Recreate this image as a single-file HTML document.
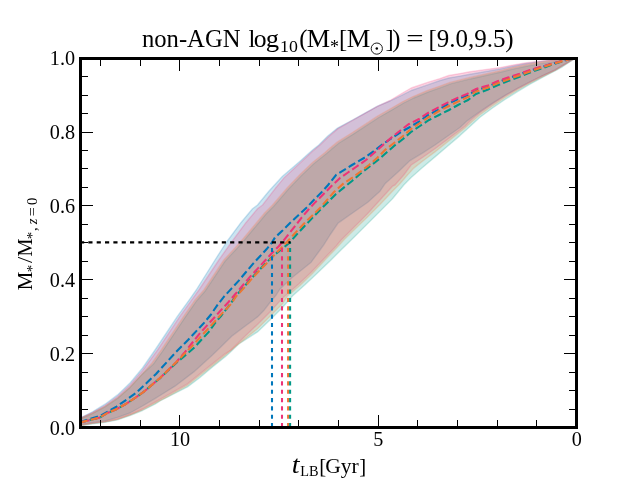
<!DOCTYPE html>
<html><head><meta charset="utf-8"><title>plot</title>
<style>
html,body{margin:0;padding:0;background:#fff;}
body{width:640px;height:480px;overflow:hidden;}
svg{display:block;}
text{font-family:"Liberation Serif",serif;fill:#000;}
</style></head><body>
<svg width="640" height="480" viewBox="0 0 640 480">
<rect width="640" height="480" fill="#fff"/>
<clipPath id="cp"><rect x="80.0" y="57.6" width="496.0" height="369.59999999999997"/></clipPath>
<g clip-path="url(#cp)">
<polygon points="80.0,418.0 82.5,416.8 92.5,411.8 105.0,404.2 117.5,394.9 130.0,383.0 142.5,368.0 155.0,350.0 165.0,335.0 177.5,316.2 190.0,298.8 196.2,290.0 215.0,260.0 226.2,242.5 240.0,223.8 252.5,208.8 257.5,205.0 268.8,191.2 282.5,176.2 300.0,161.2 312.5,150.0 318.8,145.0 327.5,136.2 337.5,128.1 352.5,120.0 365.0,113.1 377.5,106.2 390.0,101.0 402.5,94.9 411.2,90.5 427.5,84.9 440.0,80.5 448.8,78.0 460.0,76.1 470.0,74.2 500.0,69.0 512.5,66.2 525.0,63.8 537.5,61.9 550.0,60.4 576.0,57.6 576.0,57.6 555.0,69.9 542.5,75.7 530.0,81.8 517.5,88.3 505.0,95.4 492.5,103.2 480.0,111.6 467.5,120.6 460.0,127.5 447.5,136.2 435.0,145.0 422.5,153.1 410.0,160.6 397.5,172.5 385.0,183.8 380.0,191.2 367.5,202.5 355.0,211.2 338.1,223.1 330.0,235.0 323.8,244.8 317.5,253.5 311.2,262.2 305.0,267.2 292.5,277.2 280.0,289.0 276.2,295.0 270.0,302.5 263.8,310.6 257.5,316.9 245.0,326.2 232.5,335.6 220.0,347.8 212.5,355.0 193.8,371.9 175.0,386.2 160.0,395.5 155.0,398.6 142.5,406.0 130.0,413.0 117.5,417.4 105.0,421.0 92.5,422.8 82.5,424.3 80.0,424.5" fill="#0077BB" fill-opacity="0.2" stroke="#0077BB" stroke-opacity="0.2" stroke-width="1.39" stroke-linejoin="round"/>
<polygon points="80.0,419.0 82.5,418.0 92.5,413.6 105.0,406.9 117.5,398.4 130.0,387.4 142.5,373.9 153.2,364.3 162.4,351.3 172.4,336.3 184.9,317.6 196.2,301.3 204.9,291.3 224.9,261.3 241.2,243.8 253.7,228.8 266.2,213.8 273.7,206.3 288.7,188.8 301.2,175.7 313.7,163.8 326.2,153.8 331.2,149.4 338.7,143.2 353.7,133.8 366.2,125.7 378.7,117.5 391.2,110.3 403.7,103.0 413.7,98.0 428.7,91.8 441.2,87.4 451.2,83.7 461.2,81.2 471.2,78.7 501.2,72.0 513.7,68.9 526.2,66.2 538.7,63.9 551.2,62.3 576.0,57.6 576.0,57.6 562.5,66.8 555.0,71.0 542.5,77.4 530.0,84.2 517.5,91.6 505.0,99.5 492.5,108.0 480.0,117.3 467.5,128.8 460.0,135.6 447.5,146.2 435.0,156.9 422.5,167.5 411.2,177.5 403.8,185.0 392.5,198.8 380.0,211.2 367.5,223.8 351.2,240.0 342.5,248.5 330.0,261.0 317.5,272.9 305.0,284.8 292.5,296.0 282.5,307.5 270.0,320.0 257.5,331.9 238.8,344.0 230.0,352.5 225.0,356.9 212.5,366.9 200.0,377.5 187.5,386.9 168.8,396.5 160.0,401.0 155.0,404.2 142.5,410.5 130.0,415.5 117.5,419.9 105.0,422.4 92.5,423.9 82.5,425.5 80.0,425.6" fill="#009988" fill-opacity="0.2" stroke="#009988" stroke-opacity="0.2" stroke-width="1.39" stroke-linejoin="round"/>
<polygon points="80.0,418.3 82.5,417.2 92.5,412.6 105.0,405.5 117.5,396.5 130.0,385.0 142.5,370.5 157.5,350.0 180.0,316.2 198.8,290.0 218.8,260.0 231.2,242.5 245.0,223.8 257.5,208.8 262.5,205.0 275.0,188.8 283.8,178.1 300.0,163.1 312.5,151.2 320.0,145.0 328.5,136.8 338.0,128.6 352.5,120.4 365.0,113.3 377.5,106.3 390.0,100.5 402.5,93.0 411.2,88.0 427.5,82.4 440.0,78.6 448.8,75.5 460.0,73.6 470.0,71.8 500.0,67.6 512.5,65.1 525.0,63.0 537.5,61.4 550.0,60.1 576.0,57.6 576.0,57.6 555.0,70.2 542.5,76.0 530.0,82.1 517.5,88.7 505.0,96.0 492.5,104.0 480.0,112.6 470.0,121.0 465.0,126.2 460.0,130.0 447.5,139.4 435.0,148.8 422.5,157.5 411.2,165.0 403.8,175.0 395.0,185.0 392.5,186.2 380.0,200.0 367.5,213.8 355.0,226.2 341.2,240.0 336.2,246.0 323.8,259.0 311.2,272.2 298.8,284.0 285.0,296.0 282.5,298.1 270.0,311.9 257.5,324.4 245.0,336.2 231.2,349.8 225.0,353.8 206.2,368.8 187.5,383.8 165.0,396.5 155.0,402.0 142.5,409.0 130.0,414.6 117.5,419.0 105.0,421.6 92.5,423.1 82.5,424.7 80.0,424.8" fill="#EE3377" fill-opacity="0.2" stroke="#EE3377" stroke-opacity="0.2" stroke-width="1.39" stroke-linejoin="round"/>
<polygon points="80.0,418.6 82.5,417.6 92.5,413.2 105.0,406.5 117.5,398.0 130.0,387.0 142.5,373.5 152.0,363.0 161.2,350.0 171.2,335.0 183.8,316.2 195.0,300.0 203.8,290.0 223.8,260.0 240.0,242.5 252.5,227.5 265.0,212.5 272.5,205.0 287.5,187.5 300.0,174.4 312.5,162.5 325.0,152.5 330.0,148.1 337.5,141.9 352.5,132.5 365.0,124.4 377.5,116.2 390.0,109.0 402.5,101.8 412.5,96.8 427.5,90.5 440.0,86.1 450.0,82.4 460.0,79.9 470.0,77.4 500.0,70.8 512.5,67.6 525.0,64.9 537.5,62.6 550.0,61.0 576.0,57.6 576.0,57.6 555.0,70.5 542.5,76.6 530.0,83.0 517.5,90.0 505.0,97.6 492.5,105.8 480.0,114.8 470.0,123.5 465.0,128.1 460.0,131.9 447.5,141.9 435.0,151.9 422.5,161.2 413.8,168.1 407.5,175.0 398.8,185.0 392.5,191.2 380.0,204.4 367.5,216.9 355.0,229.0 343.8,240.0 337.5,247.0 325.0,260.0 312.5,273.5 300.0,285.5 287.5,296.0 282.5,303.8 270.0,316.2 257.5,328.8 236.2,345.9 225.0,355.4 206.2,370.6 187.5,385.3 166.5,397.2 155.0,403.2 142.5,409.8 130.0,415.0 117.5,419.4 105.0,421.9 92.5,423.4 82.5,425.0 80.0,425.1" fill="#EE7733" fill-opacity="0.2" stroke="#EE7733" stroke-opacity="0.2" stroke-width="1.39" stroke-linejoin="round"/>
<polyline points="80.0,422.0 100.0,416.0 116.0,407.0 136.0,393.0 156.0,374.0 176.0,352.0 188.0,340.0 203.8,323.1 210.6,315.0 217.5,304.9 224.4,296.2 231.9,288.1 238.8,280.6 245.6,272.5 252.5,264.4 260.0,256.2 266.9,248.8 272.0,242.4 275.0,237.5 282.5,230.6 290.0,223.1 298.1,215.6 306.2,208.1 313.8,200.0 321.9,191.9 328.1,185.0 336.0,175.0 352.0,165.0 364.0,158.0 374.0,151.0 383.0,144.0 392.0,138.0 401.0,132.0 410.0,127.0 419.0,121.6 428.0,115.0 438.0,110.0 448.0,104.0 458.0,99.0 468.0,95.0 476.0,90.5 488.0,86.5 498.0,82.0 508.0,78.5 519.0,74.5 530.0,70.5 540.0,67.5 551.0,64.0 562.0,61.0 576.0,57.6" fill="none" stroke="#0077BB" stroke-width="2.08" stroke-dasharray="7.7 3.33" stroke-dashoffset="0"/>
<polyline points="80.0,422.5 100.0,417.5 106.2,413.6 116.2,409.2 125.6,404.2 135.0,398.0 143.8,391.8 151.2,385.5 160.0,378.2 168.8,369.8 176.2,363.0 193.8,348.1 201.2,340.0 208.8,331.9 215.0,323.1 221.0,316.0 230.6,303.6 235.6,296.1 243.1,287.9 250.6,279.2 258.1,271.1 265.6,263.6 272.6,256.3 281.5,249.3 289.8,242.4 296.2,235.0 304.4,226.2 320.0,210.0 336.0,194.0 352.0,181.0 360.0,174.0 369.0,167.0 378.0,160.0 386.0,153.0 394.0,146.0 403.0,139.0 411.0,132.0 420.0,126.0 429.0,120.0 439.0,115.0 449.0,110.0 458.0,105.0 468.0,100.0 476.0,94.0 488.0,89.5 498.0,85.0 508.0,81.0 519.0,77.0 530.0,72.5 540.0,69.0 551.0,65.0 562.0,61.5 576.0,57.6" fill="none" stroke="#009988" stroke-width="2.08" stroke-dasharray="7.7 3.33" stroke-dashoffset="1.2"/>
<polyline points="80.0,422.5 100.0,417.5 106.2,413.6 116.2,409.2 125.6,404.2 135.0,398.0 143.8,391.8 151.2,385.5 160.0,378.0 168.8,369.4 176.2,362.3 184.4,352.8 187.5,348.8 192.5,342.5 199.4,333.8 206.9,325.6 214.4,317.5 220.0,311.2 228.1,302.5 235.6,293.8 243.1,285.0 250.6,276.2 258.1,268.1 265.6,260.0 272.5,252.5 278.8,246.2 282.0,242.4 287.5,235.6 294.4,226.9 301.2,218.1 308.1,210.0 315.6,201.9 323.8,193.8 331.2,186.2 340.0,178.0 348.0,172.5 356.0,167.0 366.0,160.0 374.0,153.0 383.0,145.0 392.0,137.0 401.0,130.0 409.0,124.0 419.0,119.0 428.0,113.0 438.0,107.6 448.0,102.4 458.0,97.6 467.0,94.0 476.0,89.0 488.0,85.4 498.0,81.0 508.0,77.6 519.0,74.0 530.0,70.0 540.0,67.0 551.0,64.0 562.0,61.0 576.0,57.6" fill="none" stroke="#EE3377" stroke-width="2.08" stroke-dasharray="7.7 3.33" stroke-dashoffset="-2.0"/>
<polyline points="80.0,422.5 100.0,417.5 106.2,413.6 116.2,409.2 125.6,404.2 135.0,398.0 143.8,391.8 151.2,385.5 160.0,378.0 168.8,369.4 176.2,362.3 191.9,346.2 200.0,337.5 207.5,329.4 215.0,321.2 220.0,315.6 231.2,303.8 236.2,296.2 243.8,288.1 251.2,279.4 258.8,271.2 266.2,263.8 273.1,256.2 281.2,248.1 288.8,240.0 296.2,231.9 303.8,223.8 320.0,208.0 334.0,192.0 344.0,183.0 352.0,178.0 360.0,172.0 369.0,165.0 377.0,158.0 385.0,150.0 394.0,143.0 403.0,136.0 411.0,129.0 420.0,123.0 429.0,117.0 439.0,111.0 449.0,106.0 458.0,101.6 468.0,97.0 476.0,91.5 488.0,87.5 498.0,83.0 508.0,79.5 519.0,75.5 530.0,71.5 540.0,68.0 551.0,64.5 562.0,61.3 576.0,57.6" fill="none" stroke="#EE7733" stroke-width="2.08" stroke-dasharray="7.7 3.33" stroke-dashoffset="0"/>
<line x1="272.0" y1="427.2" x2="272.0" y2="242.4" stroke="#0077BB" stroke-width="2.08" stroke-dasharray="4.17 4.17"/>
<line x1="282.0" y1="427.2" x2="282.0" y2="242.4" stroke="#EE3377" stroke-width="2.08" stroke-dasharray="4.17 4.17"/>
<line x1="288.1" y1="427.2" x2="288.1" y2="242.4" stroke="#EE7733" stroke-width="2.08" stroke-dasharray="4.17 4.17"/>
<line x1="290.1" y1="427.2" x2="290.1" y2="242.4" stroke="#009988" stroke-width="2.08" stroke-dasharray="4.17 4.17"/>
<line x1="80.0" y1="242.4" x2="290.6" y2="242.4" stroke="#000" stroke-width="2.08" stroke-dasharray="4.17 4.17"/>
</g>
<g fill="#000" shape-rendering="crispEdges">
<rect x="576" y="415.0" width="1" height="12.5"/><rect x="576" y="58.5" width="1" height="12.5"/>
<rect x="536" y="420.2" width="1" height="7.3"/><rect x="536" y="58.5" width="1" height="7.3"/>
<rect x="497" y="420.2" width="1" height="7.3"/><rect x="497" y="58.5" width="1" height="7.3"/>
<rect x="457" y="420.2" width="1" height="7.3"/><rect x="457" y="58.5" width="1" height="7.3"/>
<rect x="417" y="420.2" width="1" height="7.3"/><rect x="417" y="58.5" width="1" height="7.3"/>
<rect x="378" y="415.0" width="1" height="12.5"/><rect x="378" y="58.5" width="1" height="12.5"/>
<rect x="338" y="420.2" width="1" height="7.3"/><rect x="338" y="58.5" width="1" height="7.3"/>
<rect x="298" y="420.2" width="1" height="7.3"/><rect x="298" y="58.5" width="1" height="7.3"/>
<rect x="259" y="420.2" width="1" height="7.3"/><rect x="259" y="58.5" width="1" height="7.3"/>
<rect x="219" y="420.2" width="1" height="7.3"/><rect x="219" y="58.5" width="1" height="7.3"/>
<rect x="179" y="415.0" width="1" height="12.5"/><rect x="179" y="58.5" width="1" height="12.5"/>
<rect x="140" y="420.2" width="1" height="7.3"/><rect x="140" y="58.5" width="1" height="7.3"/>
<rect x="100" y="420.2" width="1" height="7.3"/><rect x="100" y="58.5" width="1" height="7.3"/>
<rect x="80.5" y="427" width="12.5" height="1"/><rect x="564.0" y="427" width="12.5" height="1"/>
<rect x="80.5" y="409" width="7.3" height="1"/><rect x="569.2" y="409" width="7.3" height="1"/>
<rect x="80.5" y="390" width="7.3" height="1"/><rect x="569.2" y="390" width="7.3" height="1"/>
<rect x="80.5" y="372" width="7.3" height="1"/><rect x="569.2" y="372" width="7.3" height="1"/>
<rect x="80.5" y="353" width="12.5" height="1"/><rect x="564.0" y="353" width="12.5" height="1"/>
<rect x="80.5" y="335" width="7.3" height="1"/><rect x="569.2" y="335" width="7.3" height="1"/>
<rect x="80.5" y="316" width="7.3" height="1"/><rect x="569.2" y="316" width="7.3" height="1"/>
<rect x="80.5" y="298" width="7.3" height="1"/><rect x="569.2" y="298" width="7.3" height="1"/>
<rect x="80.5" y="279" width="12.5" height="1"/><rect x="564.0" y="279" width="12.5" height="1"/>
<rect x="80.5" y="261" width="7.3" height="1"/><rect x="569.2" y="261" width="7.3" height="1"/>
<rect x="80.5" y="242" width="7.3" height="1"/><rect x="569.2" y="242" width="7.3" height="1"/>
<rect x="80.5" y="224" width="7.3" height="1"/><rect x="569.2" y="224" width="7.3" height="1"/>
<rect x="80.5" y="205" width="12.5" height="1"/><rect x="564.0" y="205" width="12.5" height="1"/>
<rect x="80.5" y="187" width="7.3" height="1"/><rect x="569.2" y="187" width="7.3" height="1"/>
<rect x="80.5" y="168" width="7.3" height="1"/><rect x="569.2" y="168" width="7.3" height="1"/>
<rect x="80.5" y="150" width="7.3" height="1"/><rect x="569.2" y="150" width="7.3" height="1"/>
<rect x="80.5" y="132" width="12.5" height="1"/><rect x="564.0" y="132" width="12.5" height="1"/>
<rect x="80.5" y="113" width="7.3" height="1"/><rect x="569.2" y="113" width="7.3" height="1"/>
<rect x="80.5" y="95" width="7.3" height="1"/><rect x="569.2" y="95" width="7.3" height="1"/>
<rect x="80.5" y="76" width="7.3" height="1"/><rect x="569.2" y="76" width="7.3" height="1"/>
<rect x="80.5" y="58" width="12.5" height="1"/><rect x="564.0" y="58" width="12.5" height="1"/>
<rect x="79" y="57" width="3" height="372"/>
<rect x="575" y="57" width="3" height="372"/>
<rect x="79" y="57" width="499" height="3"/>
<rect x="79" y="426" width="499" height="3"/>
</g>
<g font-size="20.2px" style="filter:grayscale(1)">
<text x="576.8" y="446.4" text-anchor="middle">0</text>
<text x="378.4" y="446.4" text-anchor="middle">5</text>
<text x="180.0" y="446.4" text-anchor="middle">10</text>
<text x="75.1" y="434.9" text-anchor="end">0.0</text>
<text x="75.1" y="361.0" text-anchor="end">0.2</text>
<text x="75.1" y="287.1" text-anchor="end">0.4</text>
<text x="75.1" y="213.1" text-anchor="end">0.6</text>
<text x="75.1" y="139.2" text-anchor="end">0.8</text>
<text x="75.1" y="65.3" text-anchor="end">1.0</text>
</g>
<!-- title -->
<g style="filter:grayscale(1)">
<text x="141.93" y="46.8" font-size="24.65px">non-AGN</text>
<text x="248.61" y="46.8" font-size="24.65px">l</text>
<text x="253.82" y="46.8" font-size="24.65px" textLength="12.86" lengthAdjust="spacingAndGlyphs">o</text>
<text x="265.75" y="46.8" font-size="24.65px" textLength="13.36" lengthAdjust="spacingAndGlyphs">g</text>
<text x="280.13" y="52.3" font-size="17.5px" textLength="17.85" lengthAdjust="spacingAndGlyphs">10</text>
<text x="299.32" y="46.8" font-size="24.65px">(</text>
<text x="306.84" y="46.8" font-size="24.65px" textLength="23.32" lengthAdjust="spacingAndGlyphs">M</text>
<text x="330.12" y="53.0" font-size="18px">*</text>
<text x="338.97" y="46.8" font-size="24.65px">[</text>
<text x="346.84" y="46.8" font-size="24.65px" textLength="23.54" lengthAdjust="spacingAndGlyphs">M</text>
<circle cx="376.8" cy="48.6" r="5.6" fill="none" stroke="#000" stroke-width="0.9"/>
<circle cx="376.8" cy="48.6" r="1.25" fill="#000"/>
<text x="385.41" y="46.8" font-size="24.65px">]</text>
<text x="392.21" y="46.8" font-size="24.65px">)</text>
<text x="406.27" y="46.8" font-size="24.65px" textLength="17.33" lengthAdjust="spacingAndGlyphs">=</text>
<text x="428.45" y="46.8" font-size="24.65px" textLength="85.25" lengthAdjust="spacingAndGlyphs">[9.0,9.5)</text>
</g>
<!-- xlabel -->
<g style="filter:grayscale(1)">
<g transform="translate(0 473.1) scale(1 1.22)"><text x="291.77" y="0" font-size="20.8px" font-style="italic" textLength="7.77" lengthAdjust="spacingAndGlyphs">t</text></g>
<text x="300.39" y="476.0" font-size="14.2px" textLength="18.31" lengthAdjust="spacingAndGlyphs">LB</text>
<text x="319.26" y="473.1" font-size="20.8px">[</text>
<text x="325.21" y="473.1" font-size="20.8px" textLength="33.58" lengthAdjust="spacingAndGlyphs">Gyr</text>
<text x="359.25" y="473.1" font-size="20.8px">]</text>
</g>
<!-- ylabel -->
<g style="filter:grayscale(1)" transform="translate(32.4 289.6) rotate(-90)">
<text x="-0.60" y="0" font-size="20.8px" textLength="18.62" lengthAdjust="spacingAndGlyphs">M</text>
<text x="17.47" y="4.3" font-size="15px">*</text>
<text x="26.70" y="0" font-size="20.8px" textLength="6.30" lengthAdjust="spacingAndGlyphs">/</text>
<text x="33.01" y="0" font-size="20.8px" textLength="18.08" lengthAdjust="spacingAndGlyphs">M</text>
<text x="50.37" y="4.3" font-size="15px">*</text>
<text x="58.54" y="4.8" font-size="14.6px">,</text>
<text x="65.26" y="4.8" font-size="14.6px" font-style="italic">z</text>
<text x="73.30" y="4.8" font-size="14.6px" textLength="9.09" lengthAdjust="spacingAndGlyphs">=</text>
<text x="84.54" y="4.8" font-size="14.6px">0</text>
</g>
</svg>
</body></html>
